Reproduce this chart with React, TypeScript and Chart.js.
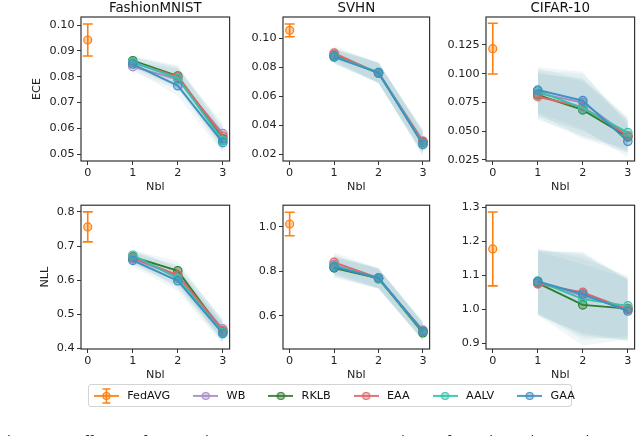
import React, { useEffect, useRef } from "react";
import { Chart, registerables } from "chart.js";

Chart.register(...registerables);

const FONT = "'DejaVu Sans', sans-serif";

// ---------- data ----------
const nblTicks = [0, 1, 2, 3];
const nblLevels = [1, 2, 3];
const fedLevel = 0;

const fedName = "FedAVG";
const fedColor = "#ff7f0e";
const methodNames = ["WB", "RKLB", "EAA", "AALV", "GAA"];
const methodColors = ["#a48cc9", "#2f7d2f", "#e06666", "#35c2ad", "#3f8fc2"];
const bandColor = "#62a4b2";

const datasetTitles = ["FashionMNIST", "SVHN", "CIFAR-10"];
const metricLabels = ["ECE", "NLL"];

// rows: WB, RKLB, EAA, AALV, GAA ; columns: Nbl = 1, 2, 3
const eceFashionMnist = [
  [0.0839, 0.079, 0.058],
  [0.0862, 0.0803, 0.056],
  [0.0855, 0.08, 0.057],
  [0.0857, 0.0794, 0.0553],
  [0.0849, 0.0765, 0.0545],
];
const eceFashionMnistFed = [0.0942, 0.0062]; // mean, error
const eceFashionMnistSpread = [0.002, 0.004, 0.004];
const eceFashionMnistTicks = [0.05, 0.06, 0.07, 0.08, 0.09, 0.1];
const eceFashionMnistRange = [0.0474, 0.1031];

const eceSvhn = [
  [0.0885, 0.0762, 0.029],
  [0.088, 0.076, 0.028],
  [0.0898, 0.0758, 0.0285],
  [0.0875, 0.0765, 0.027],
  [0.087, 0.0762, 0.0265],
];
const eceSvhnFed = [0.1055, 0.0044];
const eceSvhnSpread = [0.005, 0.007, 0.008];
const eceSvhnTicks = [0.02, 0.04, 0.06, 0.08, 0.1];
const eceSvhnRange = [0.0152, 0.1147];

const eceCifar = [
  [0.083, 0.075, 0.046],
  [0.0815, 0.0685, 0.045],
  [0.08, 0.071, 0.046],
  [0.0848, 0.07, 0.0488],
  [0.0858, 0.0766, 0.0412],
];
const eceCifarFed = [0.1218, 0.0221];
const eceCifarSpread = [0.02, 0.025, 0.014];
const eceCifarTicks = [0.025, 0.05, 0.075, 0.1, 0.125];
const eceCifarRange = [0.0241, 0.1493];

const nllFashionMnist = [
  [0.662, 0.612, 0.457],
  [0.668, 0.627, 0.448],
  [0.665, 0.615, 0.452],
  [0.673, 0.605, 0.446],
  [0.658, 0.598, 0.443],
];
const nllFashionMnistFed = [0.756, 0.044];
const nllFashionMnistSpread = [0.018, 0.03, 0.03];
const nllFashionMnistTicks = [0.4, 0.5, 0.6, 0.7, 0.8];
const nllFashionMnistRange = [0.398, 0.8196];

const nllSvhn = [
  [0.83, 0.765, 0.535],
  [0.815, 0.768, 0.523],
  [0.84, 0.77, 0.53],
  [0.825, 0.768, 0.528],
  [0.82, 0.77, 0.53],
];
const nllSvhnFed = [1.013, 0.053];
const nllSvhnSpread = [0.045, 0.045, 0.04];
const nllSvhnTicks = [0.6, 0.8, 1.0];
const nllSvhnRange = [0.45, 1.0975];

const nllCifar = [
  [1.08, 1.04, 1.0],
  [1.077, 1.013, 1.002],
  [1.075, 1.05, 1.0],
  [1.083, 1.03, 1.01],
  [1.082, 1.045, 0.995],
];
const nllCifarFed = [1.178, 0.109];
const nllCifarSpread = [0.095, 0.12, 0.09];
const nllCifarTicks = [0.9, 1.0, 1.1, 1.2, 1.3];
const nllCifarRange = [0.883, 1.3068];

const captionText = "Fig. 4: Effect of Boosting Layers on Uncertainty for the three datasets";

// ---------- helpers ----------
function rgba(hex: string, a: number) {
  const n = parseInt(hex.slice(1), 16);
  return `rgba(${(n >> 16) & 255},${(n >> 8) & 255},${n & 255},${a})`;
}

function makeHandle(color: string, err: boolean): HTMLCanvasElement {
  const c = document.createElement("canvas");
  c.width = 25;
  c.height = 16;
  const ctx = c.getContext("2d")!;
  ctx.strokeStyle = color;
  ctx.lineWidth = 1.8;
  ctx.beginPath();
  ctx.moveTo(0, 8);
  ctx.lineTo(25, 8);
  ctx.stroke();
  if (err) {
    ctx.lineWidth = 1.5;
    ctx.beginPath();
    ctx.moveTo(12.5, 1);
    ctx.lineTo(12.5, 15);
    ctx.moveTo(8.5, 1);
    ctx.lineTo(16.5, 1);
    ctx.moveTo(8.5, 15);
    ctx.lineTo(16.5, 15);
    ctx.stroke();
  }
  ctx.beginPath();
  ctx.arc(12.5, 8, 3.5, 0, Math.PI * 2);
  ctx.fillStyle = rgba(color, 0.4);
  ctx.fill();
  ctx.lineWidth = 1.2;
  ctx.strokeStyle = color;
  ctx.stroke();
  return c;
}

type Box = {
  left: number;
  top: number;
  width: number;
  height: number;
  yWidth: number;
  padTop: number;
  padRight: number;
  yTitleCenter: number;
};

type PanelProps = {
  title?: string;
  yLabel?: string;
  values: number[][];
  fed: number[];
  spread: number[];
  range: number[];
  ticks: number[];
  decimals: number;
  box: Box;
};

function Panel(props: PanelProps) {
  const ref = useRef<HTMLCanvasElement>(null);
  useEffect(() => {
    const { title, yLabel, values, fed, spread, range, ticks, decimals, box } = props;
    const datasets: any[] = [];
    values.forEach((vals, m) => {
      const lo = datasets.length;
      datasets.push({
        label: methodNames[m] + " low",
        data: nblLevels.map((x, i) => ({ x, y: vals[i] - spread[i] })),
        borderColor: "rgba(0,0,0,0)",
        borderWidth: 0.01,
        pointRadius: 0,
        fill: false,
        order: 20,
      });
      datasets.push({
        label: methodNames[m] + " high",
        data: nblLevels.map((x, i) => ({ x, y: vals[i] + spread[i] })),
        borderColor: "rgba(0,0,0,0)",
        borderWidth: 0.01,
        pointRadius: 0,
        fill: { target: lo },
        backgroundColor: rgba(bandColor, 0.085),
        order: 20,
      });
    });
    values.forEach((vals, m) => {
      datasets.push({
        label: methodNames[m],
        data: nblLevels.map((x, i) => ({ x, y: vals[i] })),
        borderColor: methodColors[m],
        backgroundColor: rgba(methodColors[m], 0.4),
        borderWidth: 1.9,
        pointRadius: 4.2,
        pointBorderWidth: 1.2,
        pointBackgroundColor: rgba(methodColors[m], 0.4),
        pointBorderColor: methodColors[m],
        fill: false,
        order: 10 - m,
      });
    });
    datasets.push({
      label: fedName,
      data: [{ x: fedLevel, y: fed[0] }],
      showLine: false,
      borderColor: fedColor,
      pointRadius: 4,
      pointBorderWidth: 1.2,
      pointBackgroundColor: rgba(fedColor, 0.4),
      pointBorderColor: fedColor,
      order: 0,
    });

    const deco = {
      id: "deco",
      beforeDatasetsDraw(chart: any) {
        const { ctx, scales } = chart;
        const px = scales.x.getPixelForValue(fedLevel);
        const top = scales.y.getPixelForValue(fed[0] + fed[1]);
        const bot = scales.y.getPixelForValue(fed[0] - fed[1]);
        ctx.save();
        ctx.strokeStyle = fedColor;
        ctx.lineWidth = 1.6;
        ctx.beginPath();
        ctx.moveTo(px, top);
        ctx.lineTo(px, bot);
        ctx.moveTo(px - 5, top);
        ctx.lineTo(px + 5, top);
        ctx.moveTo(px - 5, bot);
        ctx.lineTo(px + 5, bot);
        ctx.stroke();
        ctx.restore();
      },
      afterDraw(chart: any) {
        const { ctx, chartArea } = chart;
        ctx.save();
        ctx.strokeStyle = "#333";
        ctx.lineWidth = 1.2;
        ctx.strokeRect(chartArea.left, chartArea.top, chartArea.right - chartArea.left, chartArea.bottom - chartArea.top);
        ctx.restore();
      },
    };

    const tickFont = { family: FONT, size: 11.2 };
    const chart = new Chart(ref.current!, {
      type: "line",
      data: { datasets },
      plugins: [deco],
      options: {
        animation: false,
        responsive: true,
        maintainAspectRatio: false,
        layout: { padding: { top: box.padTop, right: box.padRight, left: 0, bottom: 0 } },
        scales: {
          x: {
            type: "linear",
            min: -0.15,
            max: 3.15,
            afterBuildTicks: (s: any) => {
              s.ticks = nblTicks.map((v) => ({ value: v }));
            },
            afterFit: (s: any) => {
              s.height = 35;
            },
            ticks: { font: tickFont, color: "#222", padding: 1, callback: (v: any) => String(v), maxRotation: 0 },
            grid: { display: true, drawOnChartArea: false, drawTicks: true, tickLength: 4, color: "#333" },
            border: { display: false },
            title: { display: true, text: "Nbl", font: tickFont, color: "#222", padding: { top: 0, bottom: 1.8 } },
          },
          y: {
            type: "linear",
            min: range[0],
            max: range[1],
            afterBuildTicks: (s: any) => {
              s.ticks = ticks.map((v) => ({ value: v }));
            },
            afterFit: (s: any) => {
              s.width = box.yWidth;
            },
            ticks: { font: tickFont, color: "#222", padding: 2.5, callback: (v: any) => Number(v).toFixed(decimals) },
            grid: { display: true, drawOnChartArea: false, drawTicks: true, tickLength: 4, color: "#333" },
            border: { display: false },
            title: {
              display: !!yLabel,
              text: yLabel || "",
              font: tickFont,
              color: "#222",
              padding: { top: box.yTitleCenter - 6.72, bottom: 0 },
            },
          },
        },
        plugins: {
          legend: { display: false },
          tooltip: { enabled: false },
          title: {
            display: !!title,
            text: title || "",
            fullSize: false,
            color: "#111",
            font: { family: FONT, size: 13.4, weight: "normal" },
            padding: { top: 0, bottom: 0.92 },
          },
        },
      } as any,
    });
    return () => chart.destroy();
  }, []);
  const { box } = props;
  return (
    <div style={{ position: "absolute", left: box.left, top: box.top, width: box.width, height: box.height }}>
      <canvas ref={ref} />
    </div>
  );
}

function LegendBar() {
  const ref = useRef<HTMLCanvasElement>(null);
  useEffect(() => {
    const items = [{ text: fedName, color: fedColor, err: true }].concat(
      methodNames.map((n, i) => ({ text: n, color: methodColors[i], err: false }))
    );
    const chart = new Chart(ref.current!, {
      type: "line",
      data: { datasets: [] },
      options: {
        animation: false,
        responsive: true,
        maintainAspectRatio: false,
        layout: { padding: 0 },
        scales: { x: { display: false }, y: { display: false } },
        plugins: {
          tooltip: { enabled: false },
          title: { display: false },
          legend: {
            display: true,
            position: "top",
            align: "center",
            onClick: () => {},
            labels: {
              usePointStyle: true,
              pointStyleWidth: 30.4,
              padding: 20.3,
              color: "#111",
              font: { family: FONT, size: 11.2 },
              generateLabels: () =>
                items.map((it, i) => ({
                  text: it.text,
                  fillStyle: it.color,
                  strokeStyle: it.color,
                  lineWidth: 0,
                  pointStyle: makeHandle(it.color, it.err),
                  hidden: false,
                  datasetIndex: i,
                  fontColor: "#111",
                })),
            },
          },
        },
      } as any,
    });
    return () => chart.destroy();
  }, []);
  return (
    <>
      <div
        style={{
          position: "absolute",
          left: 88,
          top: 384,
          width: 484,
          height: 23,
          border: "1px solid #d4d4d4",
          borderRadius: 3,
          boxSizing: "border-box",
          background: "#fff",
        }}
      />
      <div style={{ position: "absolute", left: 52.5, top: 370.1, width: 560, height: 160 }}>
        <canvas ref={ref} />
      </div>
    </>
  );
}

export default function App() {
  const colBoxes = [
    { left: 0, width: 235, yWidth: 81, padRight: 4 },
    { left: 235, width: 200, yWidth: 48, padRight: 2 },
    { left: 435, width: 205, yWidth: 51, padRight: 4 },
  ];
  const rowBoxes = [
    { top: 0, height: 196, padTop: 0, yTitleCenter: 37.5 },
    { top: 196, height: 188, padTop: 9, yTitleCenter: 45 },
  ];
  const box = (r: number, c: number): Box => ({ ...colBoxes[c], ...rowBoxes[r] });
  return (
    <div
      style={{
        position: "absolute",
        left: 0,
        top: 0,
        width: 640,
        height: 436,
        overflow: "hidden",
        background: "#fff",
      }}
    >
      <Panel title={datasetTitles[0]} yLabel={metricLabels[0]} values={eceFashionMnist} fed={eceFashionMnistFed} spread={eceFashionMnistSpread} range={eceFashionMnistRange} ticks={eceFashionMnistTicks} decimals={2} box={box(0, 0)} />
      <Panel title={datasetTitles[1]} values={eceSvhn} fed={eceSvhnFed} spread={eceSvhnSpread} range={eceSvhnRange} ticks={eceSvhnTicks} decimals={2} box={box(0, 1)} />
      <Panel title={datasetTitles[2]} values={eceCifar} fed={eceCifarFed} spread={eceCifarSpread} range={eceCifarRange} ticks={eceCifarTicks} decimals={3} box={box(0, 2)} />
      <Panel yLabel={metricLabels[1]} values={nllFashionMnist} fed={nllFashionMnistFed} spread={nllFashionMnistSpread} range={nllFashionMnistRange} ticks={nllFashionMnistTicks} decimals={1} box={box(1, 0)} />
      <Panel values={nllSvhn} fed={nllSvhnFed} spread={nllSvhnSpread} range={nllSvhnRange} ticks={nllSvhnTicks} decimals={1} box={box(1, 1)} />
      <Panel values={nllCifar} fed={nllCifarFed} spread={nllCifarSpread} range={nllCifarRange} ticks={nllCifarTicks} decimals={1} box={box(1, 2)} />
      <LegendBar />
      <div
        style={{
          position: "absolute",
          left: 0,
          top: 433.5,
          width: 640,
          fontFamily: FONT,
          fontSize: 14,
          lineHeight: "14px",
          color: "#222",
          textAlign: "justify",
          textAlignLast: "justify" as any,
          whiteSpace: "nowrap",
          wordSpacing: 14,
        }}
      >
        {captionText}
      </div>
    </div>
  );
}
